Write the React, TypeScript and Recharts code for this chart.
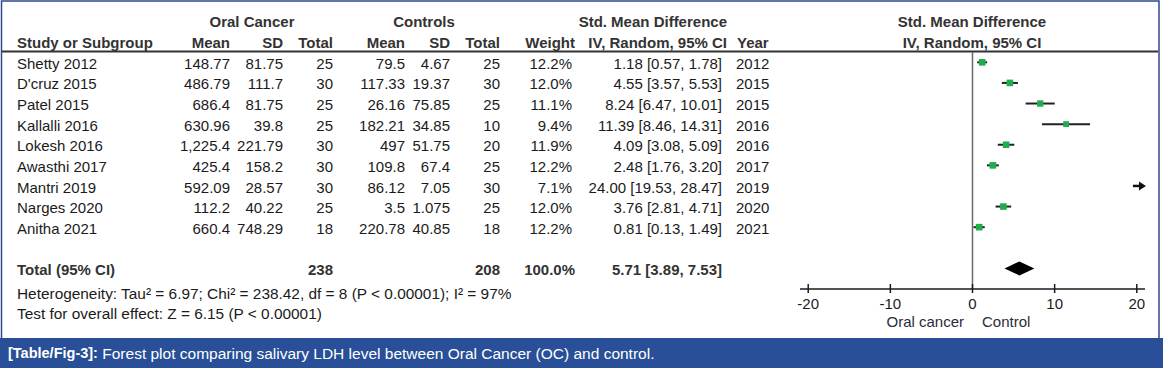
import React from 'react';
import { ScatterChart, Scatter, XAxis, YAxis, ReferenceLine } from 'recharts';

const FONT = '"Liberation Sans", Arial, Helvetica, sans-serif';

// ---------- data ----------
const studies = ['Shetty 2012', "D'cruz 2015", 'Patel 2015', 'Kallalli 2016', 'Lokesh 2016', 'Awasthi 2017', 'Mantri 2019', 'Narges 2020', 'Anitha 2021'];
const ocMean = ['148.77', '486.79', '686.4', '630.96', '1,225.4', '425.4', '592.09', '112.2', '660.4'];
const ocSD = ['81.75', '111.7', '81.75', '39.8', '221.79', '158.2', '28.57', '40.22', '748.29'];
const ocTotal = [25, 30, 25, 25, 30, 30, 30, 25, 18];
const ctMean = ['79.5', '117.33', '26.16', '182.21', '497', '109.8', '86.12', '3.5', '220.78'];
const ctSD = ['4.67', '19.37', '75.85', '34.85', '51.75', '67.4', '7.05', '1.075', '40.85'];
const ctTotal = [25, 30, 25, 10, 20, 25, 30, 25, 18];
const weights = [12.2, 12.0, 11.1, 9.4, 11.9, 12.2, 7.1, 12.0, 12.2];
const smd = [1.18, 4.55, 8.24, 11.39, 4.09, 2.48, 24.0, 3.76, 0.81];
const ciLow = [0.57, 3.57, 6.47, 8.46, 3.08, 1.76, 19.53, 2.81, 0.13];
const ciHigh = [1.78, 5.53, 10.01, 14.31, 5.09, 3.2, 28.47, 4.71, 1.49];
const years = [2012, 2015, 2015, 2016, 2016, 2017, 2019, 2020, 2021];

const totalOC = 238;
const totalCT = 208;
const totalWeight = '100.0%';
const totalEst = 5.71;
const totalLow = 3.89;
const totalHigh = 7.53;

const heterogeneity = 'Heterogeneity: Tau\u00B2 = 6.97; Chi\u00B2 = 238.42, df = 8 (P < 0.00001); I\u00B2 = 97%';
const overallTest = 'Test for overall effect: Z = 6.15 (P < 0.00001)';

const xTicks = [-20, -10, 0, 10, 20];
const X_DOMAIN: [number, number] = [-21, 21];
const TOTAL_ROW = 10;

// ---------- layout ----------
const W = 1163;
const H = 368;
const LX = 17;
const ROW_Y0 = 63;
const ROW_DY = 20.7;
const TOTAL_Y = 269;
const HET_Y = 293;
const TEST_Y = 313;

const fmtCI = (e: number, l: number, h: number) => `${e.toFixed(2)} [${l.toFixed(2)}, ${h.toFixed(2)}]`;

function T({ x, y, anchor = 'start', bold = false, size = 15, fill = '#1b1b1b', children }: any) {
  return (
    <text x={x} y={y} textAnchor={anchor} dominantBaseline="central" fontFamily={FONT} fontSize={size} fontWeight={bold ? 'bold' : 'normal'} fill={fill}>
      {children}
    </text>
  );
}

const AxisTick = (props: any) => {
  const { x, y, payload } = props;
  return (
    <g>
      <line x1={x} x2={x} y1={y - 5} y2={y + 4} stroke="#1b1b1b" strokeWidth={1.5} />
      <text x={x} y={y + 14} textAnchor="middle" dominantBaseline="central" fontFamily={FONT} fontSize={15} fill="#1b1b1b">
        {String(payload.value)}
      </text>
    </g>
  );
};

const Square = (props: any) => {
  const { cx, cy, payload } = props;
  const s = Math.sqrt(payload.w) * 1.9;
  return <rect x={cx - s / 2} y={cy - s / 2} width={s} height={s} fill="#1fae4b" />;
};

const Diamond = (props: any) => {
  const { x1, y1, x2 } = props;
  const mid = (x1 + x2) / 2;
  const h = 7;
  return <polygon points={`${x1},${y1} ${mid},${y1 - h} ${x2},${y1} ${mid},${y1 + h}`} fill="#000" />;
};

const ArrowLine = (props: any) => {
  const { x1, y1, x2 } = props;
  return (
    <g>
      <line x1={x1} y1={y1} x2={x2 - 4} y2={y1} stroke="#111" strokeWidth={2.5} />
      <polygon points={`${x2 + 1},${y1} ${x2 - 6},${y1 - 4.5} ${x2 - 6},${y1 + 4.5}`} fill="#111" />
    </g>
  );
};

export default function App() {
  const points = studies
    .map((s, i) => ({ name: s, x: smd[i], y: i, w: weights[i] }))
    .filter((p) => p.x >= X_DOMAIN[0] && p.x <= X_DOMAIN[1]);

  const rowY = (i: number) => ROW_Y0 + ROW_DY * i;

  return (
    <div style={{ position: 'absolute', left: 0, top: 0, width: W, height: H, background: '#fff' }}>
      <svg width={W} height={H} style={{ position: 'absolute', left: 0, top: 0 }}>
        {/* frame */}
        <rect x={1.5} y={1} width={1157.5} height={340} fill="none" stroke="#2c4a8a" strokeWidth={1.5} />
        {/* header texts */}
        <T x={252} y={21} anchor="middle" bold fill="#333">Oral Cancer</T>
        <T x={424} y={21} anchor="middle" bold fill="#333">Controls</T>
        <T x={727} y={21} anchor="end" bold fill="#333">Std. Mean Difference</T>
        <T x={972} y={21} anchor="middle" bold fill="#333">Std. Mean Difference</T>
        <T x={LX} y={42} bold fill="#333">Study or Subgroup</T>
        <T x={230} y={42} anchor="end" bold fill="#333">Mean</T>
        <T x={283} y={42} anchor="end" bold fill="#333">SD</T>
        <T x={333} y={42} anchor="end" bold fill="#333">Total</T>
        <T x={405} y={42} anchor="end" bold fill="#333">Mean</T>
        <T x={450} y={42} anchor="end" bold fill="#333">SD</T>
        <T x={500} y={42} anchor="end" bold fill="#333">Total</T>
        <T x={575} y={42} anchor="end" bold fill="#333">Weight</T>
        <T x={727} y={42} anchor="end" bold fill="#333">IV, Random, 95% CI</T>
        <T x={737} y={42} bold fill="#333">Year</T>
        <T x={972} y={42} anchor="middle" bold fill="#333">IV, Random, 95% CI</T>
        <line x1={2} x2={1158} y1={51.5} y2={51.5} stroke="#333" strokeWidth={2} />

        {studies.map((s, i) => (
          <g key={s}>
            <T x={LX} y={rowY(i)}>{s}</T>
            <T x={230} y={rowY(i)} anchor="end">{ocMean[i]}</T>
            <T x={283} y={rowY(i)} anchor="end">{ocSD[i]}</T>
            <T x={333} y={rowY(i)} anchor="end">{ocTotal[i]}</T>
            <T x={405} y={rowY(i)} anchor="end">{ctMean[i]}</T>
            <T x={450} y={rowY(i)} anchor="end">{ctSD[i]}</T>
            <T x={500} y={rowY(i)} anchor="end">{ctTotal[i]}</T>
            <T x={572} y={rowY(i)} anchor="end">{weights[i].toFixed(1)}%</T>
            <T x={722} y={rowY(i)} anchor="end">{fmtCI(smd[i], ciLow[i], ciHigh[i])}</T>
            <T x={736} y={rowY(i)}>{years[i]}</T>
          </g>
        ))}

        <T x={LX} y={TOTAL_Y} bold fill="#333">Total (95% CI)</T>
        <T x={333} y={TOTAL_Y} anchor="end" bold fill="#333">{totalOC}</T>
        <T x={500} y={TOTAL_Y} anchor="end" bold fill="#333">{totalCT}</T>
        <T x={575} y={TOTAL_Y} anchor="end" bold fill="#333">{totalWeight}</T>
        <T x={722} y={TOTAL_Y} anchor="end" bold fill="#333">{fmtCI(totalEst, totalLow, totalHigh)}</T>
        <T x={LX} y={HET_Y} size={15.4}>{heterogeneity}</T>
        <T x={LX} y={TEST_Y} size={15.4}>{overallTest}</T>

        <T x={964} y={321} anchor="end" fill="#2b2b3a">Oral cancer</T>
        <T x={982} y={321} fill="#2b2b3a">Control</T>

        {/* caption bar */}
        <rect x={0} y={338} width={W} height={H - 338} fill="#284f97" />
        <text x={8} y={353} dominantBaseline="central" fontFamily={FONT} fill="#fff">
          <tspan fontWeight="bold" fontSize={14.5}>[Table/Fig-3]:</tspan>
          <tspan fontSize={15.5}> Forest plot comparing salivary LDH level between Oral Cancer (OC) and control.</tspan>
        </text>
      </svg>

      <div style={{ position: 'absolute', left: 0, top: 0 }}>
        <ScatterChart width={W} height={H} margin={{ top: 52, right: 18, bottom: 49, left: 800 }}>
          <XAxis
            type="number"
            dataKey="x"
            domain={X_DOMAIN}
            ticks={xTicks}
            interval={0}
            allowDataOverflow
            height={30}
            tickSize={0}
            tickMargin={0}
            tickLine={false}
            axisLine={{ stroke: '#1b1b1b', strokeWidth: 1.5 }}
            tick={(p: any) => <AxisTick {...p} />}
          />
          <YAxis type="number" dataKey="y" domain={[-0.5, 11]} reversed hide allowDataOverflow />
          <ReferenceLine x={0} stroke="#6a6a6a" strokeWidth={1.5} />
          {studies.map((s, i) => {
            const hi = Math.min(ciHigh[i], X_DOMAIN[1]);
            const over = ciHigh[i] > X_DOMAIN[1];
            return (
              <ReferenceLine
                key={'ci' + s}
                segment={[{ x: ciLow[i], y: i }, { x: hi, y: i }]}
                stroke="#222"
                strokeWidth={2}
                shape={over ? ArrowLine : undefined}
              />
            );
          })}
          <ReferenceLine segment={[{ x: totalLow, y: TOTAL_ROW }, { x: totalHigh, y: TOTAL_ROW }]} shape={Diamond} />
          <Scatter data={points} shape={Square} isAnimationActive={false} />
        </ScatterChart>
      </div>
    </div>
  );
}
